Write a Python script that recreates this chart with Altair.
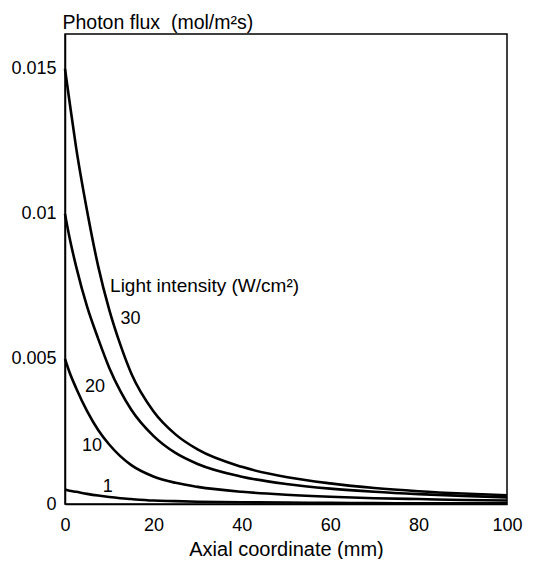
import altair as alt
import pandas as pd

# Axial coordinate (mm)
x_mm = [0, 1, 2.5, 5, 7.5, 10, 12.5, 15, 20, 25, 30, 40, 50, 60, 70, 80, 90, 100]

# Photon flux (mol/m^2 s) for each light intensity (W/cm^2)
flux_30 = [0.0150, 0.0139, 0.0123, 0.0101, 0.0082, 0.0067, 0.0055, 0.0045, 0.0032, 0.00240,
           0.00188, 0.00128, 0.00093, 0.00071, 0.00055, 0.00044, 0.00036, 0.00030]
flux_20 = [0.0100, 0.0092, 0.0082, 0.0068, 0.0057, 0.0047, 0.0039, 0.00325, 0.00235, 0.00176,
           0.00138, 0.00094, 0.00069, 0.00053, 0.00042, 0.00034, 0.00028, 0.00023]
flux_10 = [0.0050, 0.00455, 0.0040, 0.0032, 0.00255, 0.00205, 0.00165, 0.00134, 0.00095, 0.00073,
           0.00059, 0.00042, 0.00032, 0.00025, 0.00020, 0.00017, 0.00014, 0.00012]
flux_1 = [0.00050, 0.00046, 0.00042, 0.00035, 0.00029, 0.00024, 0.00020, 0.00017, 0.00012, 0.00010,
          0.00008, 0.00006, 0.00005, 0.00004, 0.00003, 0.000025, 0.00002, 0.00002]

series = {"30": flux_30, "20": flux_20, "10": flux_10, "1": flux_1}

# curve labels
label_text = ["30", "20", "10", "1"]
label_x = [14.8, 6.8, 6.1, 9.7]
label_y = [0.00638, 0.00403, 0.00200, 0.00059]

legend_title = ["Light intensity (W/cm²)"]
legend_x = [10.2]
legend_y = [0.00750]

rows = []
for name, vals in series.items():
    for xv, yv in zip(x_mm, vals):
        rows.append({"x": xv, "y": yv, "series": name})
df = pd.DataFrame(rows)

lab = pd.DataFrame({"x": label_x, "y": label_y, "text": label_text})
leg = pd.DataFrame({"x": legend_x, "y": legend_y, "text": legend_title})

FONT = "Liberation Sans"

xscale = alt.Scale(domain=[0, 100], nice=False, zero=False)
yscale = alt.Scale(domain=[0, 0.0162], nice=False)

lines = alt.Chart(df).mark_line(color="black", strokeWidth=2.6, interpolate="monotone").encode(
    x=alt.X("x:Q", scale=xscale,
            axis=alt.Axis(title="Axial coordinate (mm)", values=[0, 20, 40, 60, 80, 100],
                          ticks=False, tickSize=0, grid=False, labelPadding=12,
                          labelFlush=False,
                          labelFontSize=18, titleFontSize=20,
                          titleBaseline="alphabetic", titleY=51,
                          labelFont=FONT, titleFont=FONT, titleFontWeight="normal",
                          labelColor="black", titleColor="black",
                          domainColor="black", domainWidth=1.5)),
    y=alt.Y("y:Q", scale=yscale,
            axis=alt.Axis(title="Photon flux\u00a0 (mol/m²s)", values=[0, 0.005, 0.01, 0.015],
                          format="~g", ticks=False, tickSize=0, grid=False, labelPadding=9,
                          labelFlush=False,
                          labelFontSize=18, titleFontSize=19.5, labelFont=FONT, titleFont=FONT,
                          titleFontWeight="normal", titleAngle=0, titleAlign="left",
                          titleBaseline="alphabetic", titleX=-3, titleY=-6,
                          labelColor="black", titleColor="black",
                          domainColor="black", domainWidth=1.5)),
    detail="series:N",
)

texts = alt.Chart(lab).mark_text(font=FONT, fontSize=18, color="black",
                                 baseline="middle", align="center").encode(
    x=alt.X("x:Q", scale=xscale),
    y=alt.Y("y:Q", scale=yscale),
    text="text:N",
)

legend_text = alt.Chart(leg).mark_text(font=FONT, fontSize=19, color="black",
                                       baseline="middle", align="left").encode(
    x=alt.X("x:Q", scale=xscale),
    y=alt.Y("y:Q", scale=yscale),
    text="text:N",
)

chart = alt.layer(lines, texts, legend_text).properties(
    width=442, height=470,
    background="white",
    autosize=alt.AutoSizeParams(type="none"),
    padding={"left": 57, "top": 26, "right": 30, "bottom": 55},
).configure_view(stroke="black", strokeWidth=1.5)

chart.save("out.html", embed_options={"renderer": "svg", "actions": False})
